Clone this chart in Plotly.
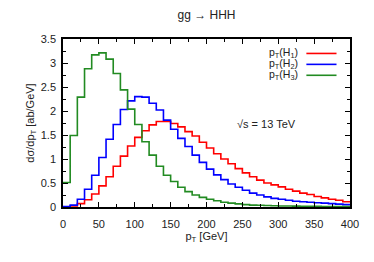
import plotly.graph_objects as go

# bin edges (GeV), 10 GeV bins from 0 to 400
bin_edges = list(range(0, 410, 10))

# dsigma/dpT [ab/GeV] per bin
h1_vals = [0.00, 0.02, 0.07, 0.15, 0.27, 0.44, 0.63, 0.85, 1.06, 1.27,
           1.45, 1.59, 1.71, 1.78, 1.78, 1.74, 1.67, 1.57, 1.48, 1.35,
           1.23, 1.11, 1.00, 0.90, 0.80, 0.71, 0.63, 0.56, 0.50, 0.46,
           0.42, 0.37, 0.33, 0.29, 0.26, 0.22, 0.19, 0.16, 0.14, 0.11]
h2_vals = [0.01, 0.04, 0.16, 0.37, 0.66, 1.03, 1.41, 1.72, 2.03, 2.21,
           2.30, 2.29, 2.16, 2.02, 1.81, 1.62, 1.43, 1.26, 1.08, 0.93,
           0.79, 0.67, 0.57, 0.48, 0.41, 0.35, 0.29, 0.25, 0.21, 0.18,
           0.16, 0.14, 0.12, 0.11, 0.10, 0.09, 0.08, 0.07, 0.06, 0.05]
h3_vals = [0.51, 1.49, 2.29, 2.88, 3.17, 3.21, 3.08, 2.78, 2.44, 2.04,
           1.72, 1.36, 1.08, 0.85, 0.66, 0.53, 0.41, 0.32, 0.25, 0.20,
           0.16, 0.13, 0.10, 0.08, 0.065, 0.05, 0.04, 0.035, 0.03, 0.025,
           0.02, 0.02, 0.018, 0.015, 0.013, 0.012, 0.011, 0.01, 0.01, 0.01]

series_names = ["p<sub>T</sub>(H<sub>1</sub>)", "p<sub>T</sub>(H<sub>2</sub>)", "p<sub>T</sub>(H<sub>3</sub>)"]
series_colors = ["#ff0000", "#0000ff", "#228b22"]
x_tick_vals = list(range(0, 450, 50))
y_tick_vals = [0, 0.5, 1, 1.5, 2, 2.5, 3, 3.5]
y_tick_text = ["0", "0.5", "1", "1.5", "2", "2.5", "3", "3.5"]

FONT = "Liberation Sans, Arial, Helvetica, sans-serif"

fig = go.Figure()
for vals, name, col in zip([h1_vals, h2_vals, h3_vals], series_names, series_colors):
    fig.add_trace(go.Scatter(
        x=bin_edges, y=vals + [vals[-1]], mode="lines", line_shape="hv",
        line=dict(color=col, width=1.6), name=name, showlegend=False,
        hoverinfo="skip"))

# legend drawn gnuplot-style: text on the left, sample on the right
leg_y = [0.914, 0.849, 0.784]
for name, col, yy in zip(series_names, series_colors, leg_y):
    fig.add_annotation(x=0.826, y=yy, xref="paper", yref="paper", text=name,
                       showarrow=False, xanchor="right", yanchor="middle",
                       font=dict(family=FONT, size=10.5, color="#222"))
    fig.add_shape(type="line", xref="paper", yref="paper", x0=0.848, x1=0.953,
                  y0=yy, y1=yy, line=dict(color=col, width=1.6))

fig.add_annotation(x=0.601, y=0.494, xref="paper", yref="paper",
                   text="√s = 13 TeV", showarrow=False, xanchor="left",
                   yanchor="middle", font=dict(family=FONT, size=11, color="#222"))

axis_common = dict(
    showgrid=False, zeroline=False, showline=True, linecolor="black",
    linewidth=1.5, mirror="allticks", ticks="inside", ticklen=5,
    tickcolor="black", tickwidth=1,
    tickfont=dict(family=FONT, size=11, color="#222"),
)

# page body has an 8px margin; size the figure so the plot area lands where the reference has it
fig.update_layout(
    width=366, height=254,
    margin=dict(l=55, r=24, t=31, b=55),
    paper_bgcolor="white", plot_bgcolor="white",
    title=dict(text="gg → HHH", x=0.5, xref="paper", y=1 - 7 / 254,
               yanchor="middle", xanchor="center",
               font=dict(family=FONT, size=12, color="#222")),
    xaxis=dict(range=[0, 400], tickvals=x_tick_vals,
               minor=dict(dtick=25, ticks="inside", ticklen=3, tickcolor="black"),
               title=dict(text="p<sub>T</sub> [GeV]", standoff=3,
                          font=dict(family=FONT, size=11, color="#222")),
               ticklabelstandoff=6,
               **axis_common),
    yaxis=dict(range=[0, 3.5], tickvals=y_tick_vals, ticktext=y_tick_text,
               minor=dict(dtick=0.25, ticks="inside", ticklen=3, tickcolor="black"),
               title=dict(text="dσ/dp<sub>T</sub> [ab/GeV]", standoff=4,
                          font=dict(family=FONT, size=11, color="#222")),
               ticklabelstandoff=3,
               **axis_common),
)

fig.write_html("out.html")
